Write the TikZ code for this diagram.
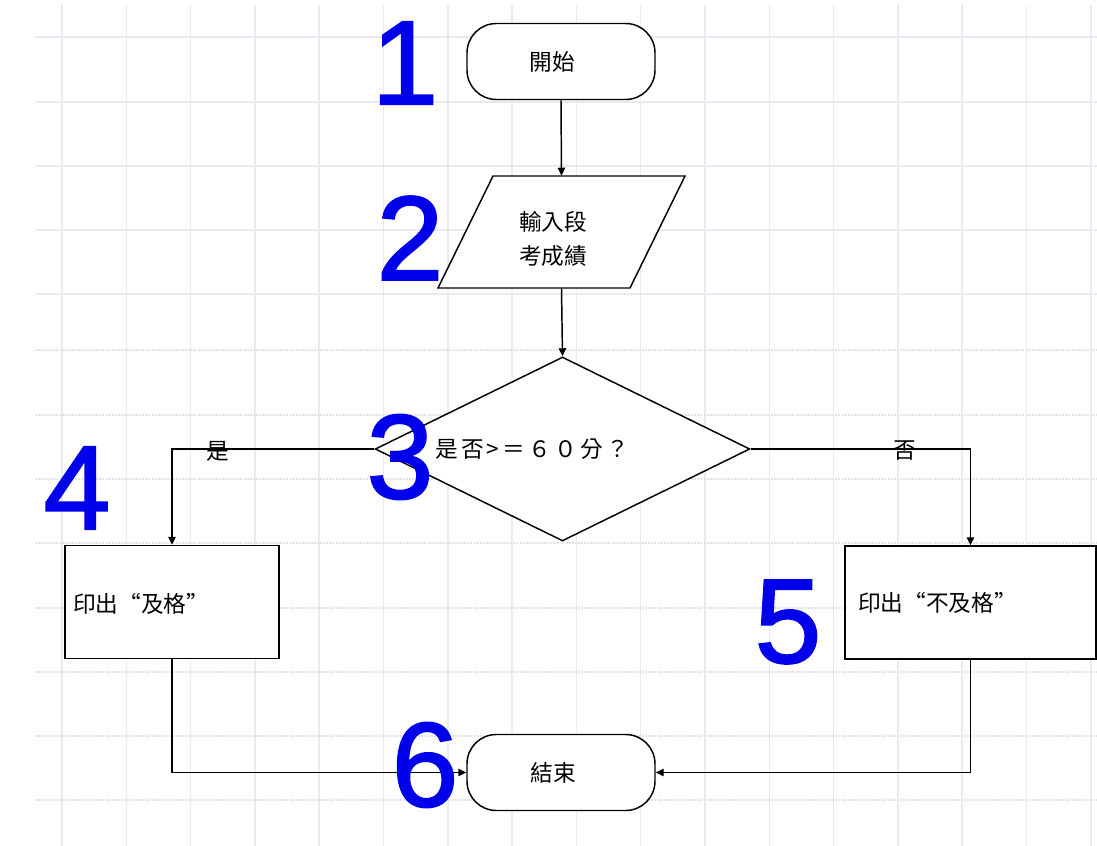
\documentclass[tikz,border=0pt]{standalone}
\usepackage{fontspec}
\setmainfont{Liberation Sans}
\newfontfamily\cjk{Noto Sans CJK TC}
\newfontfamily\numfont[FakeBold=1.6]{Liberation Sans}
\usetikzlibrary{shapes.geometric,arrows.meta}
\definecolor{gridc}{RGB}{234,234,244}
\definecolor{gridd}{RGB}{226,226,236}
\definecolor{numblue}{RGB}{0,0,235}
\begin{document}
\begin{tikzpicture}[x=0.75pt,y=-0.75pt,
  gridv/.style={gridc, line width=1.1pt},
  gridh/.style={gridc, line width=1.1pt},
  gridhd/.style={gridd, line width=1pt, dash pattern=on 1.5pt off 0.8pt},
  cjktext/.style={font=\cjk\fontsize{17}{25}\selectfont},
  term/.style={draw, line width=1.1pt, rectangle, rounded corners=22pt, inner sep=0pt,
    minimum width=141pt, minimum height=57pt, fill=white, cjktext},
  procbox/.style={draw, line width=1.1pt, rectangle, inner sep=0pt, fill=white},
  decbox/.style={draw, line width=1.1pt, diamond, inner sep=0pt, aspect=2,
    minimum width=281pt, minimum height=138pt, fill=white},
  lbl/.style={inner sep=0pt, cjktext},
  num/.style={inner sep=0pt, text=numblue, font=\numfont\fontsize{90}{90}\selectfont},
  arr/.style={line width=1.1pt, -{Triangle[length=6pt,width=5.5pt]}}
]
\useasboundingbox (0,0) rectangle (1097,846);
\fill[white] (0,0) rectangle (1097,846);
% grid
\foreach \k in {0,...,16} \draw[gridv] ({62+64.3*\k},5) -- ({62+64.3*\k},846);
\foreach \y in {37,102,166,230,294} \draw[gridh] (35,\y) -- (1097,\y);
\foreach \y in {350,415,479,543,608,672,736,800} \draw[gridhd] (35,\y) -- (1097,\y);

% nodes
\node[term] (start) at (561,61.5) {\hspace*{-13pt}開始};
\node[inner sep=0pt, minimum width=144pt, minimum height=84pt] (input) at (561.5,232) {};
\draw[line width=1.1pt, fill=white] (493,176) -- (685,176) -- (630,288) -- (438,288) -- cycle;
\node[lbl, align=center] (inputtext) at (553,239) {輸入段\\考成績};
\node[decbox] (dec) at (562.5,449) {};
\node[lbl, anchor=west] (dectext) at (435,449) {\addfontfeature{LetterSpace=14}是否>＝６０分？};
\node[procbox, minimum width=160.5pt, minimum height=84.75pt] (pass) at (172,602) {};
\node[lbl, anchor=west] (passtext) at (73,604) {印出“及格”};
\node[procbox, minimum width=188.25pt, minimum height=84.75pt] (fail) at (970.5,602.5) {};
\node[lbl, anchor=west] (failtext) at (858,603) {印出“不及格”};
\node[term] (end) at (561,772.5) {\hspace*{-12pt}結束};

% connectors
\draw[arr] (start.south) -- (input.north);
\draw[arr] (input.south) -- (dec.north);
\draw[arr] (dec.west) -| (pass.north);
\draw[arr] (dec.east) -| (fail.north);
\draw[arr] (pass.south) |- (end.west);
\draw[arr] (fail.south) |- (end.east);

% branch labels
\node[lbl] (yes) at (218,451) {是};
\node[lbl] (no) at (905,451) {否};

% step numbers
\node[num] (n1) at (405,63) {1};
\node[num] (n2) at (410,238) {2};
\node[num] (n3) at (400,457) {3};
\node[num] (n4) at (77,488) {4};
\node[num] (n5) at (788,622) {5};
\node[num] (n6) at (425,765) {6};
\end{tikzpicture}
\end{document}
